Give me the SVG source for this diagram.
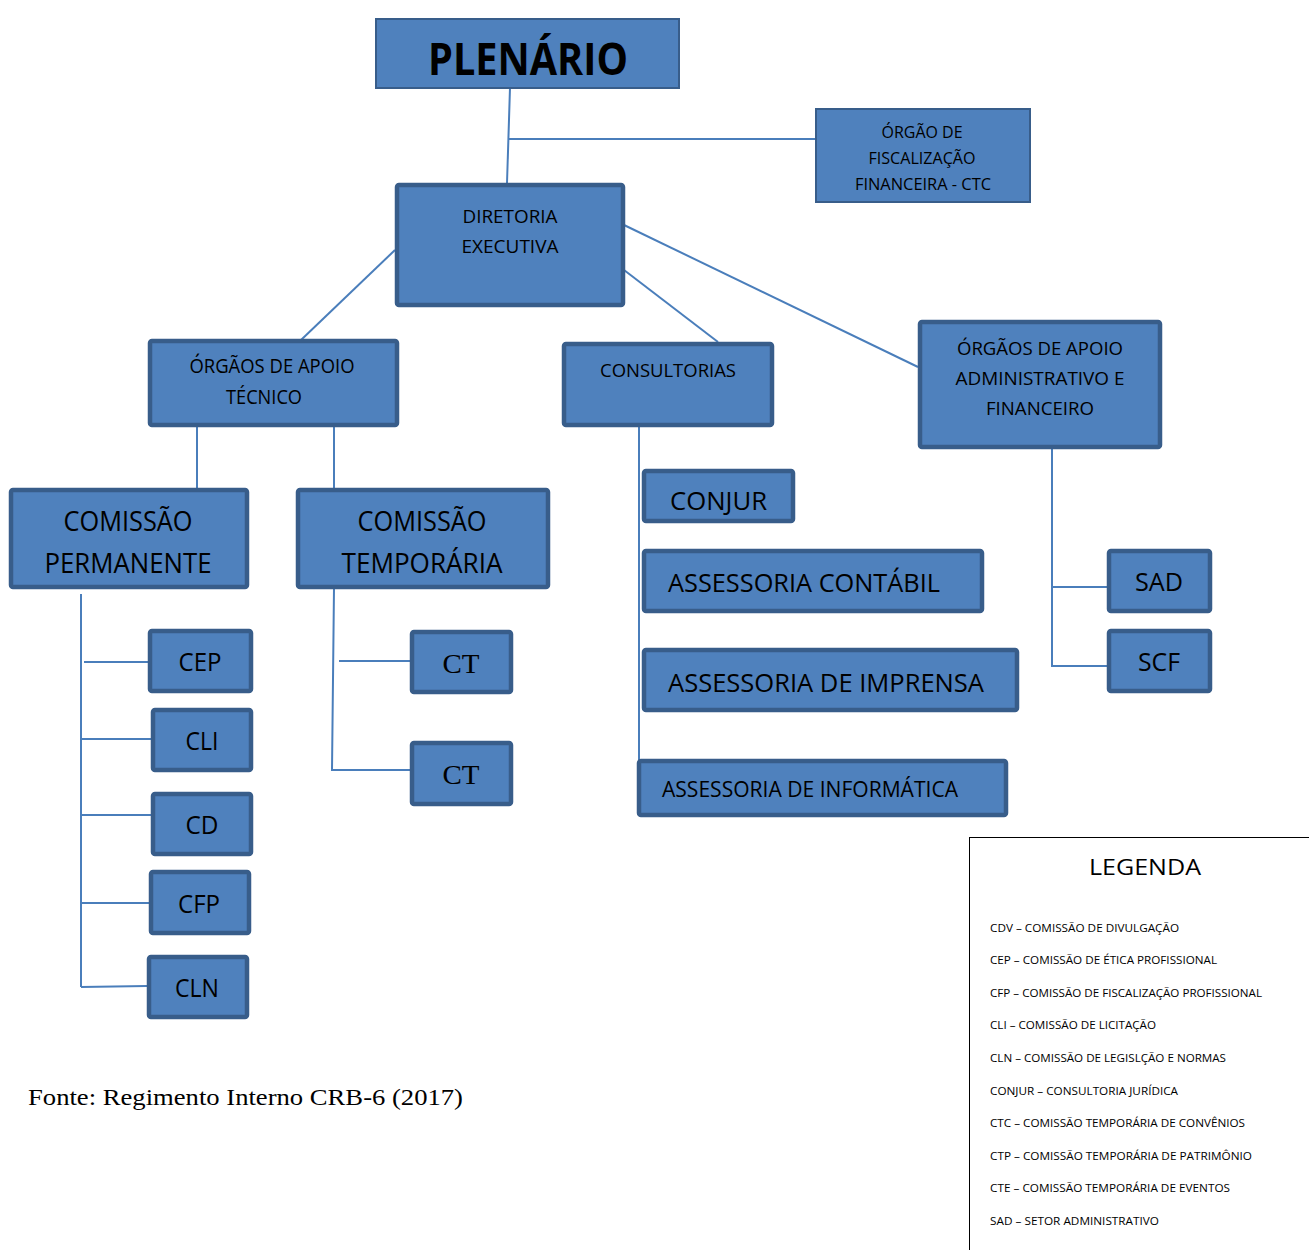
<svg xmlns="http://www.w3.org/2000/svg" width="1309" height="1250" viewBox="0 0 1309 1250">
<style>
.b{fill:#4f81bd;stroke:#385d8a;stroke-width:4.5}
.t{fill:#4f81bd;stroke:#385d8a;stroke-width:2}
.c{stroke:#4a7ebb;stroke-width:2;fill:none}
text{font-family:"Open Sans","Noto Sans","Liberation Sans",sans-serif;fill:#000}
.m{text-anchor:middle}
.s{font-family:"Liberation Serif","Times New Roman",serif}
.lg{font-size:11.5px}
</style>
<defs>
<clipPath id="cj"><rect x="640" y="470" width="160" height="45"/></clipPath>
</defs>
<g id="connectors">
<path class="c" d="M510 88 L507 183"/>
<path class="c" d="M509 139 H815"/>
<path class="c" d="M395 250 L301 340"/>
<path class="c" d="M624 270 L718 342"/>
<path class="c" d="M624 225 L918 367"/>
<path class="c" d="M197 426 V488"/>
<path class="c" d="M334 426 V488"/>
<path class="c" d="M81 594 V987"/>
<path class="c" d="M84 662 H148"/>
<path class="c" d="M81 739 H151"/>
<path class="c" d="M81 815 H151"/>
<path class="c" d="M81 903 H149"/>
<path class="c" d="M81 987 L147 986"/>
<path class="c" d="M334 588 L332 770 H410"/>
<path class="c" d="M339 661 H410"/>
<path class="c" d="M639 426 V760"/>
<path class="c" d="M1052 425 V666 H1107"/>
<path class="c" d="M1052 587 H1107"/>
</g>
<g id="plenario">
<rect class="t" x="376" y="19" width="303" height="69"/>
<text class="m" x="528" y="75" font-size="45" font-weight="bold" textLength="200" lengthAdjust="spacingAndGlyphs">PLENÁRIO</text>
</g>
<g id="fiscalizacao">
<rect class="t" x="816" y="109" width="214" height="93"/>
<text class="m" x="922" y="138" font-size="16" textLength="81" lengthAdjust="spacingAndGlyphs">ÓRGÃO DE</text>
<text class="m" x="922" y="164" font-size="16" textLength="107" lengthAdjust="spacingAndGlyphs">FISCALIZAÇÃO</text>
<text class="m" x="923" y="190" font-size="16" textLength="136" lengthAdjust="spacingAndGlyphs">FINANCEIRA - CTC</text>
</g>
<g id="diretoria">
<rect class="b" x="397" y="185" width="226" height="120" rx="2"/>
<text class="m" x="510" y="223" font-size="18.5" textLength="95" lengthAdjust="spacingAndGlyphs">DIRETORIA</text>
<text class="m" x="510" y="253" font-size="18.5" textLength="97" lengthAdjust="spacingAndGlyphs">EXECUTIVA</text>
</g>
<g id="apoio-tecnico">
<rect class="b" x="150" y="341" width="247" height="84" rx="2"/>
<text class="m" x="272" y="373" font-size="20" textLength="165" lengthAdjust="spacingAndGlyphs">ÓRGÃOS DE APOIO</text>
<text class="m" x="264" y="404" font-size="20" textLength="76" lengthAdjust="spacingAndGlyphs">TÉCNICO</text>
</g>
<g id="consultorias">
<rect class="b" x="564" y="344" width="208" height="81" rx="2"/>
<text class="m" x="668" y="377" font-size="18.5" textLength="136" lengthAdjust="spacingAndGlyphs">CONSULTORIAS</text>
</g>
<g id="apoio-adm">
<rect class="b" x="920" y="322" width="240" height="125" rx="2"/>
<text class="m" x="1040" y="355" font-size="19" textLength="166" lengthAdjust="spacingAndGlyphs">ÓRGÃOS DE APOIO</text>
<text class="m" x="1040" y="385" font-size="19" textLength="169" lengthAdjust="spacingAndGlyphs">ADMINISTRATIVO E</text>
<text class="m" x="1040" y="415" font-size="19" textLength="108" lengthAdjust="spacingAndGlyphs">FINANCEIRO</text>
</g>
<g id="comissao-permanente">
<rect class="b" x="11" y="490" width="236" height="97" rx="2"/>
<text class="m" x="128" y="531" font-size="27" textLength="129" lengthAdjust="spacingAndGlyphs">COMISSÃO</text>
<text class="m" x="128" y="573" font-size="27" textLength="167" lengthAdjust="spacingAndGlyphs">PERMANENTE</text>
</g>
<g id="comissao-temporaria">
<rect class="b" x="298" y="490" width="250" height="97" rx="2"/>
<text class="m" x="422" y="531" font-size="27" textLength="129" lengthAdjust="spacingAndGlyphs">COMISSÃO</text>
<text class="m" x="422" y="573" font-size="27" textLength="161" lengthAdjust="spacingAndGlyphs">TEMPORÁRIA</text>
</g>
<g id="conjur">
<rect class="b" x="644" y="471" width="149" height="50" rx="2"/>
<text x="670" y="510" font-size="26" textLength="97" lengthAdjust="spacingAndGlyphs" clip-path="url(#cj)">CONJUR</text>
</g>
<g id="contabil">
<rect class="b" x="644" y="551" width="338" height="60" rx="2"/>
<text x="668" y="592" font-size="26" textLength="272" lengthAdjust="spacingAndGlyphs">ASSESSORIA CONTÁBIL</text>
</g>
<g id="imprensa">
<rect class="b" x="644" y="650" width="373" height="60" rx="2"/>
<text x="668" y="692" font-size="26" textLength="316" lengthAdjust="spacingAndGlyphs">ASSESSORIA DE IMPRENSA</text>
</g>
<g id="informatica">
<rect class="b" x="639" y="761" width="367" height="54" rx="2"/>
<text x="662" y="797" font-size="21.5" textLength="296" lengthAdjust="spacingAndGlyphs">ASSESSORIA DE INFORMÁTICA</text>
</g>
<g id="sad">
<rect class="b" x="1109" y="551" width="101" height="60" rx="2"/>
<text class="m" x="1159" y="591" font-size="25" textLength="48" lengthAdjust="spacingAndGlyphs">SAD</text>
</g>
<g id="scf">
<rect class="b" x="1109" y="631" width="101" height="60" rx="2"/>
<text class="m" x="1159" y="671" font-size="25" textLength="42" lengthAdjust="spacingAndGlyphs">SCF</text>
</g>
<g id="cep">
<rect class="b" x="150" y="631" width="101" height="60" rx="2"/>
<text class="m" x="200" y="671" font-size="25" textLength="43" lengthAdjust="spacingAndGlyphs">CEP</text>
</g>
<g id="cli">
<rect class="b" x="153" y="710" width="98" height="60" rx="2"/>
<text class="m" x="202" y="750" font-size="25" textLength="33" lengthAdjust="spacingAndGlyphs">CLI</text>
</g>
<g id="cd">
<rect class="b" x="153" y="794" width="98" height="60" rx="2"/>
<text class="m" x="202" y="834" font-size="25" textLength="33" lengthAdjust="spacingAndGlyphs">CD</text>
</g>
<g id="cfp">
<rect class="b" x="151" y="872" width="98" height="61" rx="2"/>
<text class="m" x="199" y="913" font-size="25" textLength="42" lengthAdjust="spacingAndGlyphs">CFP</text>
</g>
<g id="cln">
<rect class="b" x="149" y="957" width="98" height="60" rx="2"/>
<text class="m" x="197" y="997" font-size="25" textLength="44" lengthAdjust="spacingAndGlyphs">CLN</text>
</g>
<g id="ct1">
<rect class="b" x="412" y="632" width="99" height="60" rx="2"/>
<text class="m s" x="461" y="673" font-size="28" textLength="37" lengthAdjust="spacingAndGlyphs">CT</text>
</g>
<g id="ct2">
<rect class="b" x="412" y="743" width="99" height="61" rx="2"/>
<text class="m s" x="461" y="784" font-size="28" textLength="37" lengthAdjust="spacingAndGlyphs">CT</text>
</g>
<g id="legenda">
<rect x="969.5" y="837.5" width="345" height="420" fill="#fff" stroke="#000" stroke-width="1"/>
<text class="m" x="1145" y="875" font-size="22" textLength="112" lengthAdjust="spacingAndGlyphs">LEGENDA</text>
<text class="lg" x="990" y="932" textLength="189" lengthAdjust="spacingAndGlyphs">CDV – COMISSÃO DE DIVULGAÇÃO</text>
<text class="lg" x="990" y="964" textLength="227" lengthAdjust="spacingAndGlyphs">CEP – COMISSÃO DE ÉTICA PROFISSIONAL</text>
<text class="lg" x="990" y="997" textLength="272" lengthAdjust="spacingAndGlyphs">CFP – COMISSÃO DE FISCALIZAÇÃO PROFISSIONAL</text>
<text class="lg" x="990" y="1029" textLength="166" lengthAdjust="spacingAndGlyphs">CLI – COMISSÃO DE LICITAÇÃO</text>
<text class="lg" x="990" y="1062" textLength="236" lengthAdjust="spacingAndGlyphs">CLN – COMISSÃO DE LEGISLÇÃO E NORMAS</text>
<text class="lg" x="990" y="1095" textLength="188" lengthAdjust="spacingAndGlyphs">CONJUR – CONSULTORIA JURÍDICA</text>
<text class="lg" x="990" y="1127" textLength="255" lengthAdjust="spacingAndGlyphs">CTC – COMISSÃO TEMPORÁRIA DE CONVÊNIOS</text>
<text class="lg" x="990" y="1160" textLength="262" lengthAdjust="spacingAndGlyphs">CTP – COMISSÃO TEMPORÁRIA DE PATRIMÔNIO</text>
<text class="lg" x="990" y="1192" textLength="240" lengthAdjust="spacingAndGlyphs">CTE – COMISSÃO TEMPORÁRIA DE EVENTOS</text>
<text class="lg" x="990" y="1225" textLength="169" lengthAdjust="spacingAndGlyphs">SAD – SETOR ADMINISTRATIVO</text>
</g>
<text class="s" x="28" y="1105" font-size="24" textLength="435" lengthAdjust="spacingAndGlyphs">Fonte: Regimento Interno CRB-6 (2017)</text>
</svg>
